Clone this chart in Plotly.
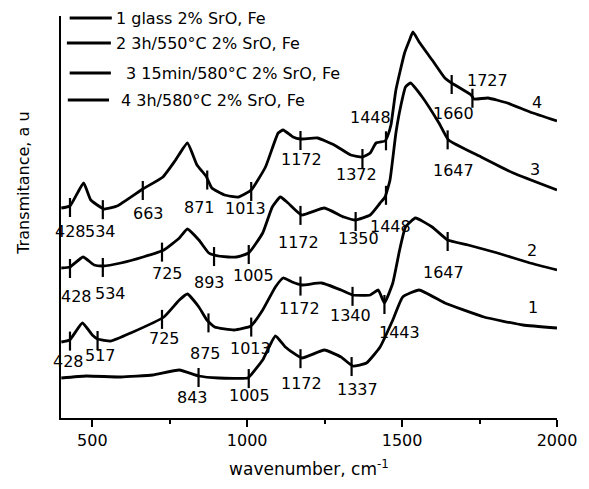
import numpy as np
import plotly.graph_objects as go

# ---- spectra (wavenumber, transmittance in arbitrary units) ----
wn1 = [400, 480, 592, 695, 781, 843, 908, 1002, 1012, 1050, 1091, 1123, 1176, 1249, 1303, 1341,
       1385, 1429, 1470, 1502, 1555, 1638, 1764, 1890, 2000]
t1 = [40, 42, 41, 43, 48, 42, 40, 40, 43, 58, 82, 71, 60, 68, 61, 52,
      55, 71, 98, 121, 128, 115, 101, 93, 90]

wn2 = [400, 427, 468, 500, 517, 560, 624, 731, 781, 807, 844, 870, 895, 958, 1012, 1050, 1091,
       1116, 1145, 1176, 1240, 1303, 1341, 1397, 1423, 1443, 1470, 1492, 1511, 1543, 1597, 1647,
       1713, 1808, 1913, 2000]
t2 = [76, 78, 95, 83, 79, 77, 85, 101, 118, 124, 111, 98, 91, 88, 92, 108, 131,
      140, 136, 133, 135, 128, 123, 123, 128, 115, 135, 168, 191, 200, 191, 178,
      173, 165, 155, 148]

wn3 = [400, 428, 470, 506, 535, 592, 664, 731, 781, 807, 844, 876, 892, 939, 965, 1005, 1050,
       1081, 1107, 1132, 1176, 1249, 1312, 1350, 1397, 1429, 1445, 1461, 1480, 1495, 1511, 1527,
       1565, 1619, 1650, 1755, 1859, 2000]
t3 = [150, 151, 161, 153, 152, 155, 161, 168, 180, 189, 178, 165, 163, 161, 161, 165, 185,
      211, 221, 215, 203, 210, 201, 198, 203, 215, 221, 238, 285, 311, 331, 335,
      321, 295, 278, 261, 245, 228]

wn4 = [400, 428, 472, 495, 538, 580, 663, 728, 769, 807, 838, 867, 886, 927, 971, 1013, 1059,
       1100, 1116, 1148, 1172, 1227, 1281, 1334, 1372, 1397, 1416, 1445, 1452, 1464, 1480, 1508,
       1524, 1535, 1555, 1597, 1638, 1660, 1723, 1732, 1777, 1840, 1913, 2000]
t4 = [210, 212, 235, 218, 209, 212, 229, 241, 258, 275, 253, 242, 230, 223, 221, 228, 251,
      285, 288, 281, 279, 280, 273, 263, 261, 265, 275, 277, 281, 293, 328, 365,
      378, 386, 376, 358, 340, 335, 323, 319, 320, 315, 306, 297]

# ---- marked bands and label anchor points ----
marks1 = [843, 1005, 1172, 1337]
lab1_x = [822, 1006, 1176, 1356]
lab1_y = [21, 23, 35, 29]

marks2 = [428, 517, 725, 875, 1013, 1172, 1340, 1443, 1647]
lab2_x = [424, 528, 734, 864, 1012, 1170, 1334, 1492, 1634]
lab2_y = [57, 63, 80, 65, 70, 110, 103, 86, 146]

marks3 = [428, 534, 725, 893, 1005, 1172, 1350, 1448, 1647]
lab3_x = [449, 560, 743, 879, 1021, 1164, 1360, 1464, 1666]
lab3_y = [122, 125, 145, 136, 143, 176, 180, 192, 248]

marks4 = [428, 534, 663, 871, 1013, 1172, 1372, 1448, 1660, 1727]
lab4_x = [430, 528, 680, 845, 996, 1176, 1353, 1397, 1666, 1777]
lab4_y = [187, 187, 205, 211, 210, 259, 244, 301, 305, 338]

curve_names = ["1", "2", "3", "4"]
curve_lab_x = [1922, 1919, 1929, 1935]
curve_lab_y = [111, 168, 249, 316]

legend_texts = ["1 glass 2% SrO, Fe", "2 3h/550°C 2% SrO, Fe",
                "3 15min/580°C 2% SrO, Fe", "4 3h/580°C 2% SrO, Fe"]

FONT = "DejaVu Sans, Arial, sans-serif"

fig = go.Figure()
curves = [(wn1, t1, marks1, lab1_x, lab1_y),
          (wn2, t2, marks2, lab2_x, lab2_y),
          (wn3, t3, marks3, lab3_x, lab3_y),
          (wn4, t4, marks4, lab4_x, lab4_y)]

annotations = []
for i, (x, y, mk, lx, ly) in enumerate(curves):
    fig.add_trace(go.Scatter(x=x, y=y, mode="lines",
                             line=dict(color="black", width=2.8, shape="spline", smoothing=0.4),
                             showlegend=False, hoverinfo="skip"))
    tx, ty = [], []
    for m in mk:
        yc = float(np.interp(m, x, y))
        tx += [m, m, None]
        ty += [yc + 8, yc - 11, None]
    fig.add_trace(go.Scatter(x=tx, y=ty, mode="lines",
                             line=dict(color="black", width=2.2),
                             showlegend=False, hoverinfo="skip"))
    for m, ax, ay in zip(mk, lx, ly):
        annotations.append(dict(x=ax, y=ay, xref="x", yref="y", text=str(m),
                                showarrow=False, xanchor="center", yanchor="middle",
                                font=dict(family=FONT, size=16, color="black")))
    annotations.append(dict(x=curve_lab_x[i], y=curve_lab_y[i], xref="x", yref="y",
                            text=curve_names[i], showarrow=False,
                            xanchor="center", yanchor="middle",
                            font=dict(family=FONT, size=16, color="black")))

# manual legend
leg_y = [400, 375, 345, 318]
leg_x0 = [427, 418, 427, 421]
leg_x1 = [563, 560, 560, 554]
leg_tx = [569, 569, 601, 585]
shapes = []
for k in range(4):
    shapes.append(dict(type="line", xref="x", yref="y", x0=leg_x0[k], x1=leg_x1[k],
                       y0=leg_y[k], y1=leg_y[k], line=dict(color="black", width=2.8)))
    annotations.append(dict(x=leg_tx[k], y=leg_y[k], xref="x", yref="y", text=legend_texts[k],
                            showarrow=False, xanchor="left", yanchor="middle",
                            font=dict(family=FONT, size=16, color="black")))

annotations.append(dict(x=-0.077, y=235, xref="paper", yref="y", text="Transmitance, a u",
                        textangle=-90, showarrow=False, xanchor="center", yanchor="middle",
                        font=dict(family=FONT, size=16, color="black")))

fig.update_layout(
    width=589, height=489,
    margin=dict(l=61, r=21, t=16, b=71),
    plot_bgcolor="white", paper_bgcolor="white",
    annotations=annotations, shapes=shapes,
    xaxis=dict(range=[399, 2000], tickvals=[500, 1000, 1500, 2000],
               ticks="outside", ticklen=7, tickwidth=1.5, tickcolor="black",
               minor=dict(tickvals=[750, 1250, 1750], ticks="outside", ticklen=4,
                          tickwidth=1.5, tickcolor="black"),
               showline=True, linewidth=2, linecolor="black",
               showgrid=False, zeroline=False,
               tickfont=dict(family=FONT, size=16, color="black"),
               title=dict(text="wavenumber, cm<sup>-1</sup>", standoff=14,
                          font=dict(family=FONT, size=17, color="black"))),
    yaxis=dict(range=[0, 402], showline=True, linewidth=2, linecolor="black",
               showticklabels=False, ticks="", showgrid=False, zeroline=False),
)

fig.write_html("out.html")
